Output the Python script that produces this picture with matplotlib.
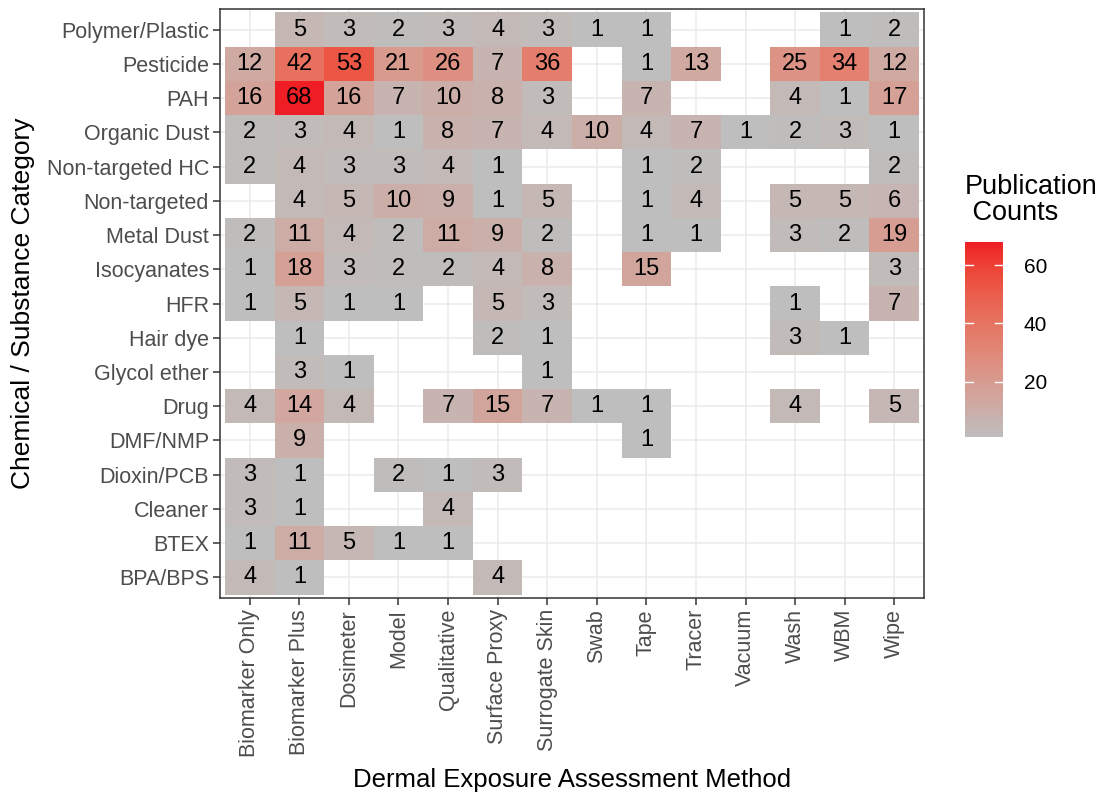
import numpy as np
import matplotlib
matplotlib.use("Agg")
import matplotlib.pyplot as plt
from matplotlib.colors import ListedColormap, Normalize, to_rgb

plt.rcParams['font.family'] = ['Liberation Sans', 'DejaVu Sans']

# --- data ---
methods = ['Biomarker Only', 'Biomarker Plus', 'Dosimeter', 'Model', 'Qualitative',
           'Surface Proxy', 'Surrogate Skin', 'Swab', 'Tape', 'Tracer', 'Vacuum',
           'Wash', 'WBM', 'Wipe']

# top to bottom as in the picture
categories = ['Polymer/Plastic', 'Pesticide', 'PAH', 'Organic Dust', 'Non-targeted HC',
              'Non-targeted', 'Metal Dust', 'Isocyanates', 'HFR', 'Hair dye',
              'Glycol ether', 'Drug', 'DMF/NMP', 'Dioxin/PCB', 'Cleaner', 'BTEX', 'BPA/BPS']

N = None
counts = [
    [N, 5, 3, 2, 3, 4, 3, 1, 1, N, N, N, 1, 2],        # Polymer/Plastic
    [12, 42, 53, 21, 26, 7, 36, N, 1, 13, N, 25, 34, 12],  # Pesticide
    [16, 68, 16, 7, 10, 8, 3, N, 7, N, N, 4, 1, 17],    # PAH
    [2, 3, 4, 1, 8, 7, 4, 10, 4, 7, 1, 2, 3, 1],        # Organic Dust
    [2, 4, 3, 3, 4, 1, N, N, 1, 2, N, N, N, 2],         # Non-targeted HC
    [N, 4, 5, 10, 9, 1, 5, N, 1, 4, N, 5, 5, 6],        # Non-targeted
    [2, 11, 4, 2, 11, 9, 2, N, 1, 1, N, 3, 2, 19],      # Metal Dust
    [1, 18, 3, 2, 2, 4, 8, N, 15, N, N, N, N, 3],       # Isocyanates
    [1, 5, 1, 1, N, 5, 3, N, N, N, N, 1, N, 7],         # HFR
    [N, 1, N, N, N, 2, 1, N, N, N, N, 3, 1, N],         # Hair dye
    [N, 3, 1, N, N, N, 1, N, N, N, N, N, N, N],         # Glycol ether
    [4, 14, 4, N, 7, 15, 7, 1, 1, N, N, 4, N, 5],       # Drug
    [N, 9, N, N, N, N, N, N, 1, N, N, N, N, N],         # DMF/NMP
    [3, 1, N, 2, 1, 3, N, N, N, N, N, N, N, N],         # Dioxin/PCB
    [3, 1, N, N, 4, N, N, N, N, N, N, N, N, N],         # Cleaner
    [1, 11, 5, 1, 1, N, N, N, N, N, N, N, N, N],        # BTEX
    [4, 1, N, N, N, 4, N, N, N, N, N, N, N, N],         # BPA/BPS
]

low_col = '#BEBEBE'
high_col = '#EF1E24'


# --- grey -> red gradient interpolated in Lab space (like ggplot) ---
def srgb_to_lab(rgb):
    rgb = np.asarray(rgb, dtype=float)
    lin = np.where(rgb <= 0.04045, rgb / 12.92, ((rgb + 0.055) / 1.055) ** 2.4)
    M = np.array([[0.4124, 0.3576, 0.1805],
                  [0.2126, 0.7152, 0.0722],
                  [0.0193, 0.1192, 0.9505]])
    xyz = M @ lin / np.array([0.95047, 1.0, 1.08883])
    f = np.where(xyz > 0.008856, np.cbrt(xyz), 7.787 * xyz + 16 / 116)
    return np.array([116 * f[1] - 16, 500 * (f[0] - f[1]), 200 * (f[1] - f[2])])


def lab_to_srgb(lab):
    L, a, b = lab
    fy = (L + 16) / 116
    fx = fy + a / 500
    fz = fy - b / 200
    f = np.array([fx, fy, fz])
    xyz = np.where(f ** 3 > 0.008856, f ** 3, (f - 16 / 116) / 7.787)
    xyz = xyz * np.array([0.95047, 1.0, 1.08883])
    Minv = np.array([[3.2406, -1.5372, -0.4986],
                     [-0.9689, 1.8758, 0.0415],
                     [0.0557, -0.2040, 1.0570]])
    lin = Minv @ xyz
    rgb = np.where(lin <= 0.0031308, 12.92 * lin, 1.055 * np.clip(lin, 0, None) ** (1 / 2.4) - 0.055)
    return np.clip(rgb, 0, 1)


lab_lo = srgb_to_lab(to_rgb(low_col))
lab_hi = srgb_to_lab(to_rgb(high_col))
cmap = ListedColormap([lab_to_srgb(lab_lo + t * (lab_hi - lab_lo)) for t in np.linspace(0, 1, 256)])

vals = np.array([[np.nan if v is None else v for v in row] for row in counts[::-1]], dtype=float)
vmin, vmax = np.nanmin(vals), np.nanmax(vals)
norm = Normalize(vmin, vmax)

# --- figure ---
W, H = 1103, 794
fig = plt.figure(figsize=(W / 100, H / 100), dpi=100)
ax = fig.add_axes([220 / W, 1 - 598 / H, 704 / W, 589 / H])

nx, ny = len(methods), len(categories)
ax.set_axisbelow(True)
ax.grid(True, color='#EBEBEB', linewidth=1.1)
ax.pcolormesh(np.arange(nx + 1) - 0.5, np.arange(ny + 1) - 0.5,
              np.ma.masked_invalid(vals), cmap=cmap, norm=norm, zorder=2)

for i in range(ny):
    for j in range(nx):
        if not np.isnan(vals[i, j]):
            ax.text(j, i, f'{int(vals[i, j])}', ha='center', va='center',
                    fontsize=17, color='black', zorder=3)

ax.set_xlim(-0.6, nx - 0.4)
ax.set_ylim(-0.6, ny - 0.4)
ax.set_xticks(range(nx))
ax.set_xticklabels(methods, rotation=90, fontsize=15.5, color='#4D4D4D')
ax.set_yticks(range(ny))
ax.set_yticklabels(categories[::-1], fontsize=15.5, color='#4D4D4D')
ax.tick_params(length=5, width=1.1, color='#333333', pad=3)
for s in ax.spines.values():
    s.set_color('#333333')
    s.set_linewidth(1.1)

ax.set_xlabel('Dermal Exposure Assessment Method', fontsize=18.5, labelpad=8)
ax.set_ylabel('Chemical / Substance Category', fontsize=19, labelpad=8)

# --- colour bar ---
cax = fig.add_axes([965 / W, 1 - 437 / H, 38 / W, 195 / H])
grad = np.linspace(vmin, vmax, 300).reshape(-1, 1)
cax.imshow(grad, aspect='auto', origin='lower', cmap=cmap, norm=norm,
           extent=[0, 1, vmin, vmax])
cax.set_xlim(0, 1)
cax.set_ylim(vmin, vmax)
cax.set_xticks([])
for t in [20, 40, 60]:
    cax.plot([0, 0.2], [t, t], color='white', lw=1)
    cax.plot([0.8, 1], [t, t], color='white', lw=1)
cax.yaxis.tick_right()
cax.set_yticks([20, 40, 60])
cax.tick_params(axis='y', length=0, labelsize=15, pad=15, labelcolor='black')
for s in cax.spines.values():
    s.set_visible(False)

fig.text(965 / W, 1 - 174 / H, 'Publication\n Counts', fontsize=19.5,
         ha='left', va='top', linespacing=1.0)

fig.savefig('out.png', dpi=100)
